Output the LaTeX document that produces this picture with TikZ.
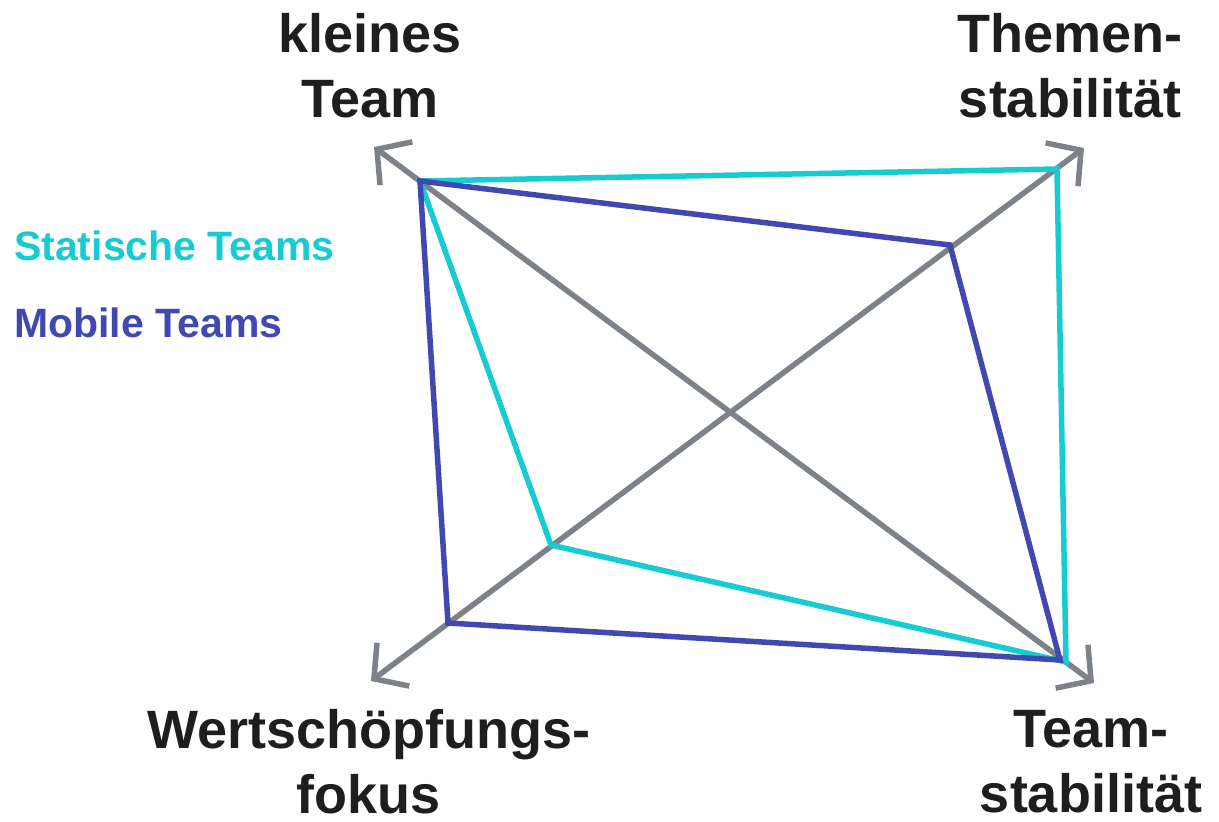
\documentclass[tikz,border=0pt]{standalone}
\usepackage{fontspec}
\setmainfont{Liberation Sans}
\usetikzlibrary{arrows.meta}
\definecolor{axisgray}{HTML}{7C8287}
\definecolor{cyanT}{HTML}{17CBD3}
\definecolor{blueT}{HTML}{4149B1}
\definecolor{txt}{HTML}{1E1E1E}
\tikzset{
  tip/.tip={Straight Barb[length=24pt,width=54pt,line width=5.5pt]},
  axis/.style={draw=axisgray, line width=5.5pt, tip-tip},
  poly/.style={line width=5.5pt, line join=miter},
  biglabel/.style={font=\fontsize{54}{65}\selectfont\bfseries, text=txt, align=center, inner sep=0pt},
  legend/.style={font=\fontsize{41}{46}\selectfont\bfseries, anchor=base west, inner sep=0pt}
}
\begin{document}
\begin{tikzpicture}[x=1pt,y=-1pt]
\useasboundingbox (0,0) rectangle (1219,822);
% axis ends
\coordinate (ul) at (374,147);
\coordinate (lr) at (1094,683);
\coordinate (ll) at (371,681);
\coordinate (ur) at (1084,148);
% polygon vertices
\coordinate (c1) at (420,181);
\coordinate (c2) at (1057,169);
\coordinate (c3) at (1066,662);
\coordinate (c4) at (551,545);
\coordinate (b1) at (420,181);
\coordinate (b2) at (950,245);
\coordinate (b3) at (1060,660);
\coordinate (b4) at (448,623);
\draw[axis] (ul) -- (lr);
\draw[axis] (ll) -- (ur);
\draw[poly, draw=cyanT] (c1) -- (c2) -- (c3) -- (c4) -- cycle;
\draw[poly, draw=blueT] (b1) -- (b2) -- (b3) -- (b4) -- cycle;
\node[biglabel] (kt) at (370,66) {kleines\\Team};
\node[biglabel] (ts) at (1070,66) {Themen-\\stabilität};
\node[biglabel] (wf) at (369,762) {Wertschöpfungs-\\fokus};
\node[biglabel] (tm) at (1091,762) {Team-\\stabilität};
\node[legend, text=cyanT] (ls) at (14,260) {Statische Teams};
\node[legend, text=blueT] (lm) at (14,337) {Mobile Teams};
\end{tikzpicture}
\end{document}
